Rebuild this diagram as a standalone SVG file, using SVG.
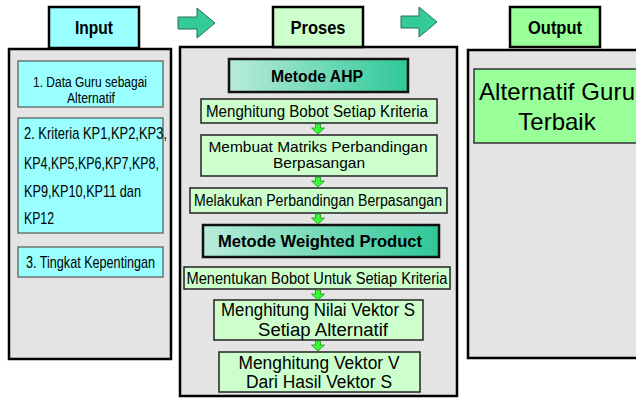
<svg xmlns="http://www.w3.org/2000/svg" width="636" height="398" viewBox="0 0 636 398">
<defs>
<linearGradient id="mg" x1="0" y1="0" x2="1" y2="0">
<stop offset="0" stop-color="#B9ECDA"/>
<stop offset="1" stop-color="#2FC898"/>
</linearGradient>
<path id="da" d="M-2.5,0 h5 v4 h4 l-6.5,6 l-6.5,-6 h4 z"/>
</defs>
<style>
.panel{fill:#E4E4E4;stroke:#000;stroke-width:2.5}
.hdr{stroke:#000;stroke-width:2.5}
.cy{fill:#99FFFF;stroke:#555;stroke-width:1.2}
.lg{fill:#CCFFCC;stroke:#222;stroke-width:1.5}
.met{fill:url(#mg);stroke:#111;stroke-width:2.5}
.t{font-family:"Liberation Sans",Arial,sans-serif;fill:#000}
.b{font-weight:bold}
.big{fill:#33CC99;stroke:#2a6f55;stroke-width:1}
.sm{fill:#33FF33;stroke:#2a8a2a;stroke-width:0.8}
</style>

<g id="input">
<rect class="panel" x="9" y="49" width="162" height="310"/>
<rect class="hdr" x="49" y="7" width="90" height="41" fill="#99FFFF"/>
<text class="t b" x="94" y="34" font-size="18" text-anchor="middle" textLength="38" lengthAdjust="spacingAndGlyphs">Input</text>
</g>
<g id="in1">
<rect class="cy" x="18" y="61" width="145" height="46"/>
<text class="t" x="90" y="87" font-size="14" text-anchor="middle" textLength="114" lengthAdjust="spacingAndGlyphs">1. Data Guru sebagai</text>
<text class="t" x="91" y="103" font-size="14" text-anchor="middle" textLength="48" lengthAdjust="spacingAndGlyphs">Alternatif</text>
</g>
<g id="in2">
<rect class="cy" x="18" y="118" width="145" height="115"/>
<text class="t" x="24" y="139" font-size="17" textLength="143" lengthAdjust="spacingAndGlyphs">2. Kriteria KP1,KP2,KP3,</text>
<text class="t" x="24" y="169" font-size="17" textLength="135" lengthAdjust="spacingAndGlyphs">KP4,KP5,KP6,KP7,KP8,</text>
<text class="t" x="24" y="197" font-size="17" textLength="117" lengthAdjust="spacingAndGlyphs">KP9,KP10,KP11 dan</text>
<text class="t" x="24" y="224" font-size="17" textLength="30" lengthAdjust="spacingAndGlyphs">KP12</text>
</g>
<g id="in3">
<rect class="cy" x="18" y="247" width="145" height="30"/>
<text class="t" x="26" y="268" font-size="17" textLength="129" lengthAdjust="spacingAndGlyphs">3. Tingkat Kepentingan</text>
</g>

<g id="proses">
<rect class="panel" x="180" y="47" width="277" height="349"/>
<rect class="hdr" x="273" y="7" width="90" height="40" fill="#CCFFCC"/>
<text class="t b" x="318" y="34" font-size="18" text-anchor="middle" textLength="55" lengthAdjust="spacingAndGlyphs">Proses</text>
</g>

<g id="output">
<rect class="panel" x="468" y="50" width="175" height="308"/>
<rect class="hdr" x="510" y="7" width="90" height="40" fill="#99FF99"/>
<text class="t b" x="555" y="34" font-size="18" text-anchor="middle" textLength="54" lengthAdjust="spacingAndGlyphs">Output</text>
</g>
<g id="out1">
<rect x="474" y="69" width="170" height="74" fill="#99FF99" stroke="#333" stroke-width="1.5"/>
<text class="t" x="557" y="100" font-size="24" text-anchor="middle" textLength="156" lengthAdjust="spacing">Alternatif Guru</text>
<text class="t" x="557" y="130" font-size="24" text-anchor="middle">Terbaik</text>
</g>

<g id="ahp">
<rect class="met" x="229" y="59" width="179" height="33"/>
<text class="t b" x="317" y="82" font-size="16" text-anchor="middle" textLength="92" lengthAdjust="spacingAndGlyphs">Metode AHP</text>
</g>
<g id="s1">
<rect class="lg" x="201" y="99" width="236" height="24"/>
<text class="t" x="317" y="117" font-size="16" text-anchor="middle" textLength="222" lengthAdjust="spacingAndGlyphs">Menghitung Bobot Setiap Kriteria</text>
</g>
<g id="s2">
<rect class="lg" x="201" y="135" width="236" height="41"/>
<text class="t" x="318" y="152" font-size="15" text-anchor="middle" textLength="219" lengthAdjust="spacingAndGlyphs">Membuat Matriks Perbandingan</text>
<text class="t" x="319" y="168" font-size="15" text-anchor="middle" textLength="92" lengthAdjust="spacingAndGlyphs">Berpasangan</text>
</g>
<g id="s3">
<rect class="lg" x="190" y="188" width="257" height="25"/>
<text class="t" x="318" y="206" font-size="16" text-anchor="middle" textLength="248" lengthAdjust="spacingAndGlyphs">Melakukan Perbandingan Berpasangan</text>
</g>
<g id="wp">
<rect class="met" x="203" y="225" width="236" height="32"/>
<text class="t b" x="320" y="247" font-size="17" text-anchor="middle" textLength="204" lengthAdjust="spacingAndGlyphs">Metode Weighted Product</text>
</g>
<g id="s4">
<rect class="lg" x="184" y="267" width="266" height="22"/>
<text class="t" x="317" y="284" font-size="16" text-anchor="middle" textLength="261" lengthAdjust="spacingAndGlyphs">Menentukan Bobot Untuk Setiap Kriteria</text>
</g>
<g id="s5">
<rect class="lg" x="214" y="300" width="209" height="40"/>
<text class="t" x="318" y="316" font-size="18" text-anchor="middle" textLength="194" lengthAdjust="spacingAndGlyphs">Menghitung Nilai Vektor S</text>
<text class="t" x="323" y="336" font-size="18" text-anchor="middle" textLength="130" lengthAdjust="spacingAndGlyphs">Setiap Alternatif</text>
</g>
<g id="s6">
<rect class="lg" x="219" y="352" width="201" height="40"/>
<text class="t" x="319" y="369" font-size="18" text-anchor="middle" textLength="161" lengthAdjust="spacingAndGlyphs">Menghitung Vektor V</text>
<text class="t" x="319" y="388" font-size="18" text-anchor="middle" textLength="146" lengthAdjust="spacingAndGlyphs">Dari Hasil Vektor S</text>
</g>

<g id="connectors">
<path class="big" d="M178,17 h19 v-9 l18,15 l-18,15 v-9 h-19 z"/>
<path class="big" d="M401,16 h18 v-9 l18,15 l-18,15 v-9 h-18 z"/>
<use href="#da" class="sm" x="318" y="124"/>
<use href="#da" class="sm" x="318" y="177"/>
<use href="#da" class="sm" x="318" y="214"/>
<use href="#da" class="sm" x="318" y="290"/>
<use href="#da" class="sm" x="318" y="341"/>
</g>
</svg>
